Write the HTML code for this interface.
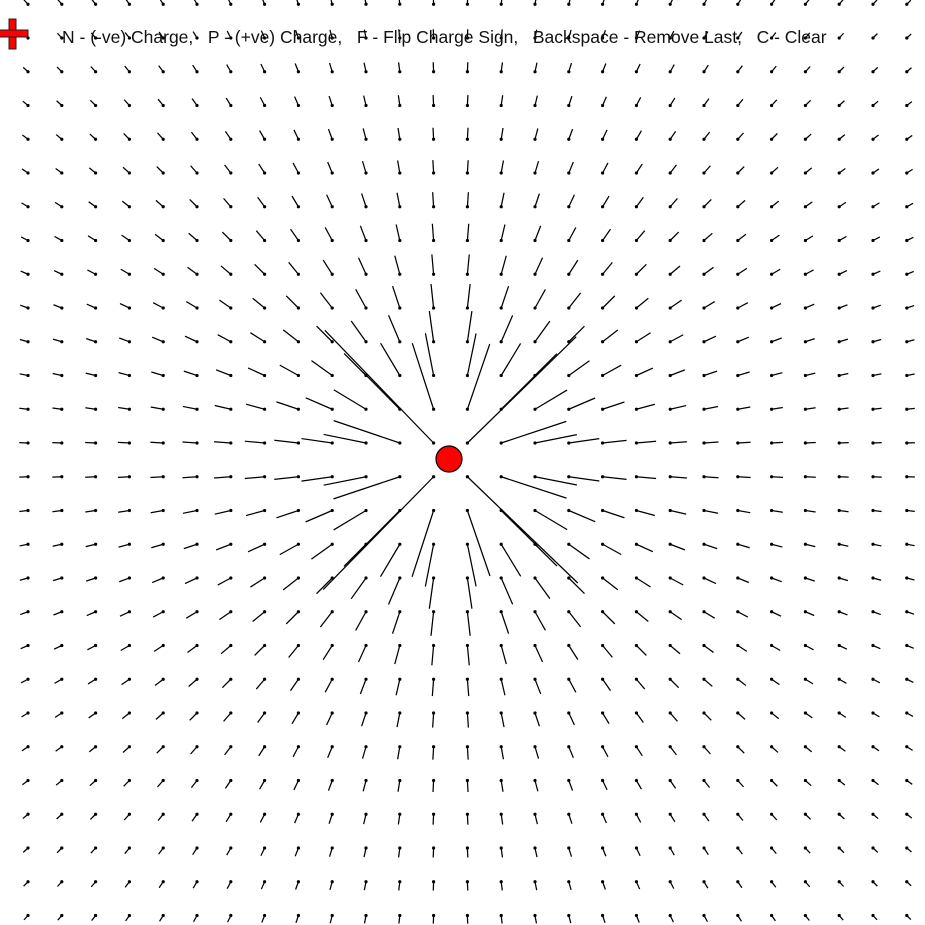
<!DOCTYPE html>
<html>
<head>
<meta charset="utf-8">
<style>
  html,body{margin:0;padding:0;background:#fff;}
  #wrap{position:relative;width:925px;height:925px;overflow:hidden;}
  svg{position:absolute;left:0;top:0;}
  #help{position:absolute;left:62px;top:27px;font-family:"Liberation Sans",sans-serif;font-size:17.5px;color:#111;white-space:pre;}
</style>
</head>
<body>
<div id="wrap">
<svg id="plot" width="925" height="925"></svg>
<div id="help">N - (-ve) Charge,   P - (+ve) Charge,   F - Flip Charge Sign,   Backspace - Remove Last,   C - Clear</div>
</div>
<script>
const chargeX = [450];
const chargeY = [460];
const chargeQ = [1];
const gridCols = 27;
const gridRows = 28;

const NS = "http://www.w3.org/2000/svg";
const svg = document.getElementById('plot');
const x0 = 28, y0 = 4.25, dx = 33.8, dy = 33.75, K = 3700;

function mk(tag, attrs){
  const e = document.createElementNS(NS, tag);
  for (const k in attrs) e.setAttribute(k, attrs[k]);
  return e;
}

for (let r = 0; r < gridRows; r++){
  for (let c = 0; c < gridCols; c++){
    const gx = x0 + c*dx, gy = y0 + r*dy;
    let vx = 0, vy = 0;
    for (let i = 0; i < chargeX.length; i++){
      const ox = gx - chargeX[i], oy = gy - chargeY[i];
      const d2 = ox*ox + oy*oy;
      vx += chargeQ[i]*K*ox/d2;
      vy += chargeQ[i]*K*oy/d2;
    }
    const ln = mk('line', {x1:gx, y1:gy, x2:gx+vx, y2:gy+vy, stroke:'#000', 'stroke-width':1.25});
    
    
    svg.appendChild(ln);
    const dot = mk('circle', {cx:gx, cy:gy, r:1.6, fill:'#000'});
    
    
    svg.appendChild(dot);
  }
}

for (let i = 0; i < chargeX.length; i++){
  const ch = mk('circle', {cx:chargeX[i]-1, cy:chargeY[i]-1, r:13, fill:chargeQ[i] > 0 ? '#ff0000' : '#0000ff', stroke:'#000', 'stroke-width':1.2});
  
  
  svg.appendChild(ch);
}

const cross = mk('g', {});


cross.appendChild(mk('rect', {x:9, y:19, width:7, height:30, fill:'#ff0000', stroke:'#222', 'stroke-width':1}));
cross.appendChild(mk('rect', {x:-2, y:30, width:30, height:7, fill:'#ff0000', stroke:'#222', 'stroke-width':1}));
cross.appendChild(mk('rect', {x:10, y:31, width:5, height:5, fill:'#ff0000'}));
svg.appendChild(cross);
</script>
</body>
</html>
